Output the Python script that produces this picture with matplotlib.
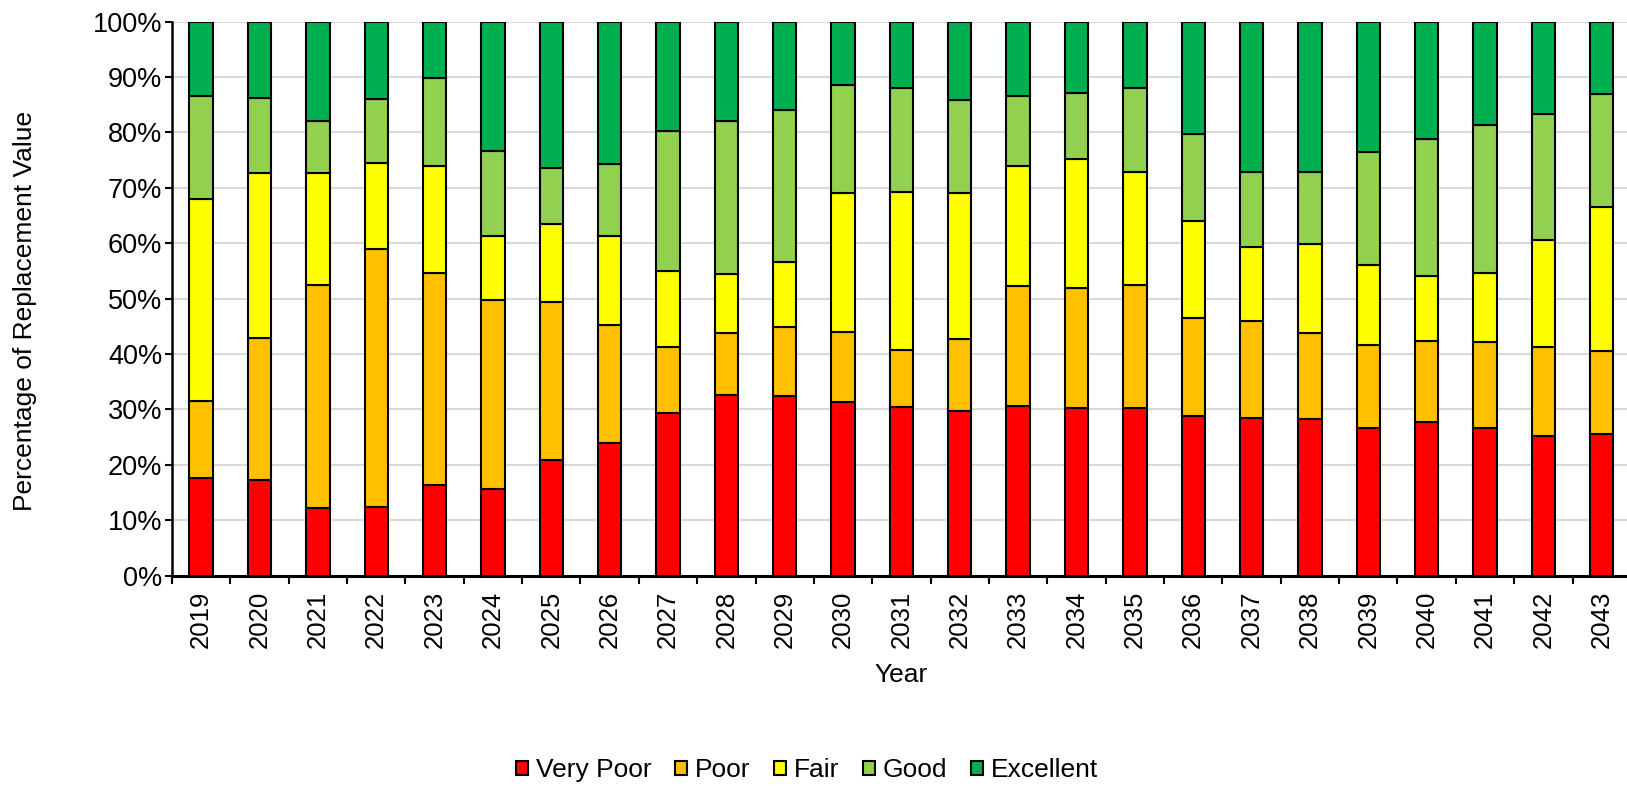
import numpy as np
import matplotlib
matplotlib.use("Agg")
import matplotlib.pyplot as plt
from matplotlib.ticker import FixedLocator, PercentFormatter

plt.rcParams['font.family'] = ['Liberation Sans', 'DejaVu Sans']

years = [str(y) for y in range(2019, 2044)]

# percentage of replacement value per condition
very_poor = [17.7, 17.2, 12.3, 12.4, 16.3, 15.7, 20.8, 23.9, 29.3, 32.7, 32.4, 31.4, 30.5,
             29.8, 30.7, 30.3, 30.2, 28.9, 28.4, 28.2, 26.6, 27.7, 26.7, 25.2, 25.6]
poor = [13.9, 25.7, 40.1, 46.6, 38.4, 34.0, 28.6, 21.4, 12.0, 11.1, 12.4, 12.5, 10.3,
        13.0, 21.6, 21.6, 22.3, 17.6, 17.5, 15.6, 15.1, 14.7, 15.4, 16.0, 14.9]
fair = [36.4, 29.7, 20.3, 15.5, 19.3, 11.6, 14.0, 16.0, 13.7, 10.6, 11.9, 25.1, 28.5,
        26.2, 21.7, 23.4, 20.4, 17.5, 13.4, 16.0, 14.4, 11.7, 12.5, 19.4, 26.1]
good = [18.5, 13.7, 9.4, 11.5, 15.8, 15.4, 10.1, 13.1, 25.2, 27.6, 27.3, 19.6, 18.8,
        16.8, 12.6, 11.8, 15.1, 15.8, 13.6, 13.0, 20.3, 24.8, 26.8, 22.8, 20.3]
excellent = [13.5, 13.7, 17.9, 14.0, 10.2, 23.3, 26.5, 25.6, 19.8, 18.0, 16.0, 11.4, 11.9,
             14.2, 13.4, 12.9, 12.0, 20.2, 27.1, 27.2, 23.6, 21.1, 18.6, 16.6, 13.1]

series = [("Very Poor", very_poor, "#FF0000"),
          ("Poor", poor, "#FFC000"),
          ("Fair", fair, "#FFFF00"),
          ("Good", good, "#92D050"),
          ("Excellent", excellent, "#00B050")]

fig = plt.figure(figsize=(16.27, 7.86), dpi=100)
# plot area runs slightly past the right edge of the figure, as in the original
ax = fig.add_axes([0.1057, 0.2676, 0.8967, 0.7048])

x = np.arange(len(years))
bottom = np.zeros(len(years))
for name, vals, col in series:
    ax.bar(x, vals, 0.40, bottom=bottom, color=col, edgecolor="black",
           linewidth=1.5, label=name, zorder=3)
    bottom += np.array(vals)

ax.set_xlim(-0.5, len(years) - 0.5)
ax.set_ylim(0, 100)
ax.set_yticks(np.arange(0, 101, 10))
ax.yaxis.set_major_formatter(PercentFormatter(decimals=0))
ax.grid(axis="y", color="#d9d9d9", linewidth=1.5, zorder=0)

ax.set_xticks(x)
ax.set_xticklabels(years, rotation=90)
ax.xaxis.set_minor_locator(FixedLocator(np.arange(-0.5, len(years), 1)))
ax.tick_params(axis="x", which="major", length=0, pad=11, labelsize=18.5)
ax.tick_params(axis="x", which="minor", length=6, width=1.5, direction="out")
ax.tick_params(axis="y", length=5, width=1.5, pad=2, labelsize=19.5)

for s in ["top", "right"]:
    ax.spines[s].set_visible(False)
ax.spines["left"].set_linewidth(1.8)
ax.spines["bottom"].set_linewidth(2.2)

ax.set_xlabel("Year", fontsize=19)
ax.set_ylabel("Percentage of Replacement Value", fontsize=19)
ax.xaxis.set_label_coords(0.50, -0.179)
ax.xaxis.label.set_va("center")
ax.yaxis.set_label_coords(-0.101, 0.477)
ax.yaxis.label.set_va("center")

fig.legend(loc="center", bbox_to_anchor=(0.496, 0.02), ncol=5, frameon=False,
           fontsize=19, handlelength=0.45, handleheight=0.45, handletextpad=0.3,
           columnspacing=0.9)

fig.savefig("out.png", dpi=100)
